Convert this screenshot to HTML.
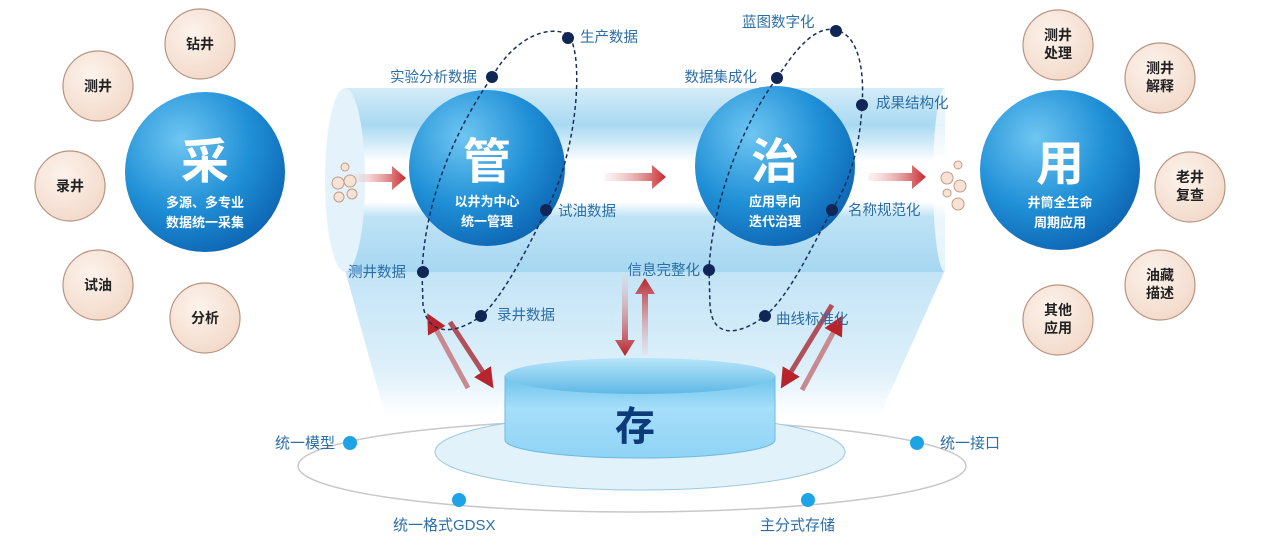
<!DOCTYPE html>
<html><head><meta charset="utf-8"><style>
html,body{margin:0;padding:0;background:#fff;}
svg{display:block;font-family:"Liberation Sans","Noto Sans CJK SC",sans-serif;}
</style></head><body>
<svg width="1267" height="553" viewBox="0 0 1267 553" xmlns="http://www.w3.org/2000/svg">
<defs>
<linearGradient id="pipe" x1="0" y1="0" x2="0" y2="1">
<stop offset="0" stop-color="#d4ecf8"/><stop offset="0.2" stop-color="#a9d9f2"/>
<stop offset="0.35" stop-color="#e8f5fc"/><stop offset="0.4" stop-color="#ffffff"/><stop offset="0.62" stop-color="#ffffff"/>
<stop offset="0.7" stop-color="#bfe3f6"/><stop offset="1" stop-color="#a6d7f1"/>
</linearGradient>
<linearGradient id="fun" x1="0" y1="0" x2="0" y2="1">
<stop offset="0" stop-color="#c2e4f6"/><stop offset="0.7" stop-color="#def0fa"/><stop offset="1" stop-color="#ffffff"/>
</linearGradient>
<radialGradient id="ball" cx="0.35" cy="0.3" r="0.8">
<stop offset="0" stop-color="#6fc6f2"/><stop offset="0.55" stop-color="#1f8fd6"/><stop offset="1" stop-color="#0b5fae"/>
</radialGradient>
<radialGradient id="peach" cx="0.4" cy="0.35" r="0.7">
<stop offset="0" stop-color="#fdf3ec"/><stop offset="1" stop-color="#f2d9c9"/>
</radialGradient>
<linearGradient id="cyl" x1="0" y1="0" x2="0" y2="1">
<stop offset="0" stop-color="#6cc3ec"/><stop offset="0.4" stop-color="#a6defa"/><stop offset="1" stop-color="#8fd3f5"/>
</linearGradient>
<linearGradient id="cyltop" x1="0" y1="0" x2="0" y2="1">
<stop offset="0" stop-color="#b7e5fa"/><stop offset="1" stop-color="#5fb8e6"/>
</linearGradient>
<linearGradient id="arrH" x1="0" y1="0" x2="1" y2="0">
<stop offset="0" stop-color="#f4d6d6" stop-opacity="0.3"/><stop offset="1" stop-color="#c8262a"/>
</linearGradient>
<linearGradient id="arrUp" gradientUnits="userSpaceOnUse" x1="0" y1="355" x2="0" y2="278">
<stop offset="0" stop-color="#e8d0d4" stop-opacity="0.3"/><stop offset="1" stop-color="#b8242c"/>
</linearGradient>
<linearGradient id="arrDn" gradientUnits="userSpaceOnUse" x1="0" y1="275" x2="0" y2="355">
<stop offset="0" stop-color="#e8d0d4" stop-opacity="0.3"/><stop offset="1" stop-color="#b8242c"/>
</linearGradient>
<marker id="ah" markerWidth="4" markerHeight="4" refX="2" refY="2" orient="auto"><path d="M0,0 L4,2 L0,4 Z" fill="#b8242c"/></marker>
</defs>

<polygon points="345,270 945,270 880,415 385,415" fill="url(#fun)"/>
<rect x="345" y="88" width="600" height="184" fill="url(#pipe)"/>
<ellipse cx="345" cy="180" rx="20" ry="92" fill="#e4f3fb"/>
<ellipse cx="945" cy="180" rx="12" ry="92" fill="#ffffff" opacity="0.7"/>

<ellipse cx="632" cy="466" rx="334" ry="46" fill="#fff" stroke="#c8c8c8" stroke-width="1.5"/>
<ellipse cx="640" cy="452" rx="205" ry="38" fill="#e2f2fb" stroke="#9cc9e0" stroke-width="1"/>
<path d="M505,376 L505,440 A135,18 0 0 0 775,440 L775,376 Z" fill="url(#cyl)" stroke="#6fb9df"/>
<ellipse cx="640" cy="376" rx="135" ry="18" fill="url(#cyltop)"/>
<text x="635" y="440" font-size="40" font-weight="bold" fill="#0d3a78" text-anchor="middle">存</text>

<g fill="#1ea3e6">
<circle cx="350" cy="443" r="7"/><circle cx="917" cy="443" r="7"/>
<circle cx="459" cy="500" r="7"/><circle cx="808" cy="500" r="7"/>
</g>
<g font-size="15" fill="#2d6ea6">
<text x="335" y="448" text-anchor="end">统一模型</text>
<text x="940" y="448">统一接口</text>
<text x="393" y="530">统一格式GDSX</text>
<text x="760" y="530">主分式存储</text>
</g>

<!-- vertical arrows as polygons -->
<polygon points="622,275 628,275 628,340 635,340 625,356 615,340 622,340" fill="url(#arrDn)"/>
<polygon points="642,355 648,355 648,294 655,294 645,278 635,294 642,294" fill="url(#arrUp)"/>

<g stroke-width="5" marker-end="url(#ah)">
<line x1="468" y1="388" x2="432" y2="322" stroke="#c78a90"/>
<line x1="450" y1="322" x2="488" y2="380" stroke="#b0505a"/>
<line x1="832" y1="305" x2="786" y2="380" stroke="#b0505a"/>
<line x1="802" y1="390" x2="838" y2="324" stroke="#c78a90"/>
</g>

<g>
<polygon points="355,174 392,174 392,166 406,178 392,190 392,182 355,182" fill="url(#arrH)"/>
<polygon points="605,173 652,173 652,165 666,177 652,189 652,181 605,181" fill="url(#arrH)"/>
<polygon points="868,173 912,173 912,165 926,177 912,189 912,181 868,181" fill="url(#arrH)"/>
</g>
<g fill="#f7e3d6" stroke="#c49a86" stroke-width="1">
<circle cx="345" cy="167" r="4"/><circle cx="338" cy="183" r="6"/><circle cx="350" cy="181" r="6"/>
<circle cx="339" cy="197" r="5"/><circle cx="352" cy="194" r="5"/>
<circle cx="958" cy="165" r="4"/><circle cx="947" cy="178" r="6"/><circle cx="960" cy="186" r="6"/>
<circle cx="947" cy="193" r="4"/><circle cx="958" cy="204" r="6"/>
</g>

<g>
<circle cx="205" cy="172" r="80" fill="url(#ball)"/>
<circle cx="487" cy="168" r="78" fill="url(#ball)"/>
<circle cx="775" cy="166" r="80" fill="url(#ball)"/>
<circle cx="1060" cy="170" r="80" fill="url(#ball)"/>
</g>
<g fill="#fff" font-weight="bold" text-anchor="middle">
<text x="205" y="178" font-size="48">采</text>
<text x="205" y="207" font-size="13">多源、多专业</text>
<text x="205" y="227" font-size="13">数据统一采集</text>
<text x="487" y="178" font-size="48">管</text>
<text x="487" y="206" font-size="13">以井为中心</text>
<text x="487" y="226" font-size="13">统一管理</text>
<text x="775" y="178" font-size="48">治</text>
<text x="775" y="206" font-size="13">应用导向</text>
<text x="775" y="226" font-size="13">迭代治理</text>
<text x="1060" y="180" font-size="48">用</text>
<text x="1060" y="207" font-size="13">井筒全生命</text>
<text x="1060" y="227" font-size="13">周期应用</text>
</g>

<g fill="none" stroke="#1b2f5c" stroke-width="1.5" stroke-dasharray="4,3">
<path d="M492,77 C510,45 540,25 565,33 C585,40 580,150 546,210 C525,255 500,300 481,316 C460,332 428,340 423,305 L422,272 C425,200 455,130 492,77 Z"/>
<path d="M777,78 C795,50 815,25 836,30 C862,36 864,80 862,105 C860,150 848,185 832,210 C810,250 790,295 765,316 C740,335 712,340 710,305 L709,270 C712,200 745,120 777,78 Z"/>
</g>
<g fill="#0f2656">
<circle cx="568" cy="38" r="6"/><circle cx="492" cy="77" r="6"/><circle cx="546" cy="210" r="6"/>
<circle cx="423" cy="272" r="6"/><circle cx="481" cy="316" r="6"/>
<circle cx="836" cy="31" r="6"/><circle cx="777" cy="78" r="6"/><circle cx="862" cy="105" r="6"/>
<circle cx="832" cy="210" r="6"/><circle cx="709" cy="270" r="6"/><circle cx="765" cy="316" r="6"/>
</g>
<g font-size="14.5" fill="#2d6ea6">
<text x="580" y="42">生产数据</text>
<text x="477" y="82" text-anchor="end">实验分析数据</text>
<text x="558" y="216">试油数据</text>
<text x="406" y="277" text-anchor="end">测井数据</text>
<text x="497" y="320">录井数据</text>
<text x="742" y="27">蓝图数字化</text>
<text x="757" y="82" text-anchor="end">数据集成化</text>
<text x="876" y="108">成果结构化</text>
<text x="848" y="215">名称规范化</text>
<text x="700" y="275" text-anchor="end">信息完整化</text>
<text x="776" y="324">曲线标准化</text>
</g>

<g fill="url(#peach)" stroke="#b89482" stroke-width="1.2">
<circle cx="200" cy="44" r="35"/><circle cx="98" cy="86" r="35"/><circle cx="70" cy="186" r="35"/>
<circle cx="98" cy="285" r="35"/><circle cx="205" cy="318" r="35"/>
<circle cx="1058" cy="45" r="35"/><circle cx="1160" cy="78" r="35"/><circle cx="1190" cy="187" r="35"/>
<circle cx="1160" cy="285" r="35"/><circle cx="1058" cy="320" r="35"/>
</g>
<g font-size="14" font-weight="bold" fill="#222" text-anchor="middle">
<text x="200" y="49">钻井</text><text x="98" y="91">测井</text><text x="70" y="191">录井</text>
<text x="98" y="290">试油</text><text x="205" y="323">分析</text>
<text x="1058" y="40">测井</text><text x="1058" y="58">处理</text>
<text x="1160" y="73">测井</text><text x="1160" y="91">解释</text>
<text x="1190" y="182">老井</text><text x="1190" y="200">复查</text>
<text x="1160" y="280">油藏</text><text x="1160" y="298">描述</text>
<text x="1058" y="315">其他</text><text x="1058" y="333">应用</text>
</g>
</svg>
</body></html>
